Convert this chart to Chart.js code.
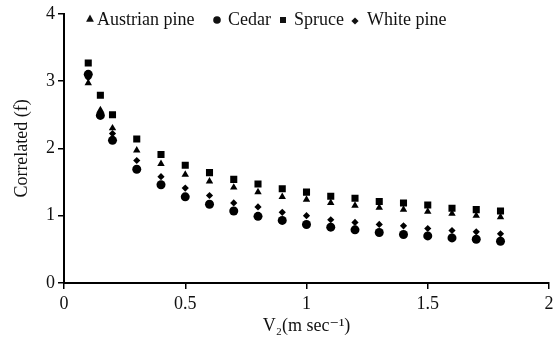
<!DOCTYPE html>
<html>
<head>
<meta charset="utf-8">
<script src="https://cdn.jsdelivr.net/npm/chart.js@4/dist/chart.umd.min.js"></script>
<style>
  html, body { margin: 0; padding: 0; background: #fff; }
  #wrap { position: relative; width: 559px; height: 339px; }
</style>
</head>
<body>
<div id="wrap"><canvas id="c" width="559" height="339"></canvas></div>
<script>
const velocities = [0.1, 0.15, 0.2, 0.3, 0.4, 0.5, 0.6, 0.7, 0.8, 0.9, 1.0, 1.1, 1.2, 1.3, 1.4, 1.5, 1.6, 1.7, 1.8];
const austrianPine = [2.97, 2.57, 2.30, 1.97, 1.77, 1.61, 1.51, 1.42, 1.35, 1.28, 1.24, 1.19, 1.15, 1.12, 1.09, 1.06, 1.03, 1.00, 0.98];
const cedar        = [3.10, 2.49, 2.12, 1.69, 1.46, 1.28, 1.17, 1.07, 0.99, 0.93, 0.87, 0.83, 0.79, 0.75, 0.72, 0.70, 0.67, 0.65, 0.62];
const spruce       = [3.27, 2.79, 2.50, 2.14, 1.91, 1.75, 1.64, 1.54, 1.47, 1.40, 1.35, 1.29, 1.26, 1.21, 1.19, 1.16, 1.11, 1.09, 1.07];
const whitePine    = [3.05, 2.53, 2.22, 1.82, 1.58, 1.41, 1.30, 1.19, 1.13, 1.05, 1.00, 0.94, 0.90, 0.87, 0.85, 0.81, 0.78, 0.76, 0.73];
const seriesNames = ['Austrian pine', 'Cedar', 'Spruce', 'White pine'];
const xTitle = 'V\u2082(m sec\u207B\u00B9)';
const yTitle = 'Correlated (f)';

const FONT = '"Liberation Serif", "Times New Roman", "DejaVu Serif", serif';
Chart.defaults.font.family = FONT;
Chart.defaults.font.size = 18;
Chart.defaults.color = '#111';

function pts(ys) { return velocities.map((x, i) => ({ x: x, y: ys[i] })); }

function drawMarker(ctx, style, x, y, r) {
  ctx.beginPath();
  if (style === 'triangle') {
    ctx.moveTo(x, y - r);
    ctx.lineTo(x + r * 0.87, y + r * 0.6);
    ctx.lineTo(x - r * 0.87, y + r * 0.6);
    ctx.closePath();
  } else if (style === 'circle') {
    ctx.arc(x, y, r, 0, Math.PI * 2);
  } else if (style === 'rect') {
    ctx.rect(x - r, y - r, 2 * r, 2 * r);
  } else if (style === 'rectRot') {
    ctx.moveTo(x, y - r);
    ctx.lineTo(x + r, y);
    ctx.lineTo(x, y + r);
    ctx.lineTo(x - r, y);
    ctx.closePath();
  }
  ctx.fill();
}

const insideLegend = {
  id: 'insideLegend',
  afterDraw(chart, args, opts) {
    const ctx = chart.ctx;
    ctx.save();
    ctx.font = '18px ' + FONT;
    ctx.fillStyle = '#111';
    ctx.textBaseline = 'alphabetic';
    chart.data.datasets.forEach((ds, i) => {
      const it = opts.items[i];
      drawMarker(ctx, ds.pointStyle, it.mx, it.my, it.r);
      ctx.fillText(ds.label, it.tx, opts.baseline);
    });
    ctx.restore();
  }
};

const mk = (label, data, style, radius) => ({
  label: label,
  data: pts(data),
  pointStyle: style,
  pointRadius: radius,
  pointHoverRadius: radius,
  backgroundColor: '#000',
  borderColor: '#000',
  borderWidth: 0,
  showLine: false
});

new Chart(document.getElementById('c'), {
  type: 'scatter',
  data: {
    datasets: [
      mk(seriesNames[0], austrianPine, 'triangle', 4.3),
      mk(seriesNames[1], cedar, 'circle', 4.5),
      mk(seriesNames[2], spruce, 'rect', 5),
      mk(seriesNames[3], whitePine, 'rectRot', 3.6)
    ]
  },
  options: {
    responsive: false,
    animation: false,
    events: [],
    layout: { padding: { left: 0, top: 12, right: 10, bottom: 0 } },
    plugins: {
      legend: { display: false },
      tooltip: { enabled: false },
      insideLegend: {
        baseline: 25,
        items: [
          { mx: 90, my: 19, r: 4.5, tx: 97 },
          { mx: 217, my: 20, r: 3.8, tx: 228 },
          { mx: 283, my: 20, r: 3, tx: 294 },
          { mx: 355, my: 21, r: 3.6, tx: 367 }
        ]
      }
    },
    scales: {
      x: {
        type: 'linear',
        min: 0, max: 2,
        afterFit(scale) { scale.height = 56; },
        ticks: { stepSize: 0.5, padding: 4, color: '#111', font: { size: 18 }, callback: (v) => String(v) },
        grid: { display: true, drawOnChartArea: false, drawTicks: true, tickLength: 6, color: '#000', lineWidth: 1.5 },
        border: { display: true, color: '#000', width: 2 },
        title: { display: true, text: xTitle, padding: { top: 0, bottom: 2 }, color: '#111', font: { size: 18 } }
      },
      y: {
        type: 'linear',
        min: 0, max: 4,
        afterFit(scale) { scale.width = 64; },
        ticks: { stepSize: 1, padding: 3, color: '#111', font: { size: 18 }, callback: (v) => String(v) },
        grid: { display: true, drawOnChartArea: false, drawTicks: true, tickLength: 6, color: '#000', lineWidth: 1.5 },
        border: { display: true, color: '#000', width: 2 },
        title: { display: true, text: yTitle, padding: { top: 11, bottom: 0 }, color: '#111', font: { size: 18 } }
      }
    }
  },
  plugins: [insideLegend]
});
</script>
</body>
</html>
